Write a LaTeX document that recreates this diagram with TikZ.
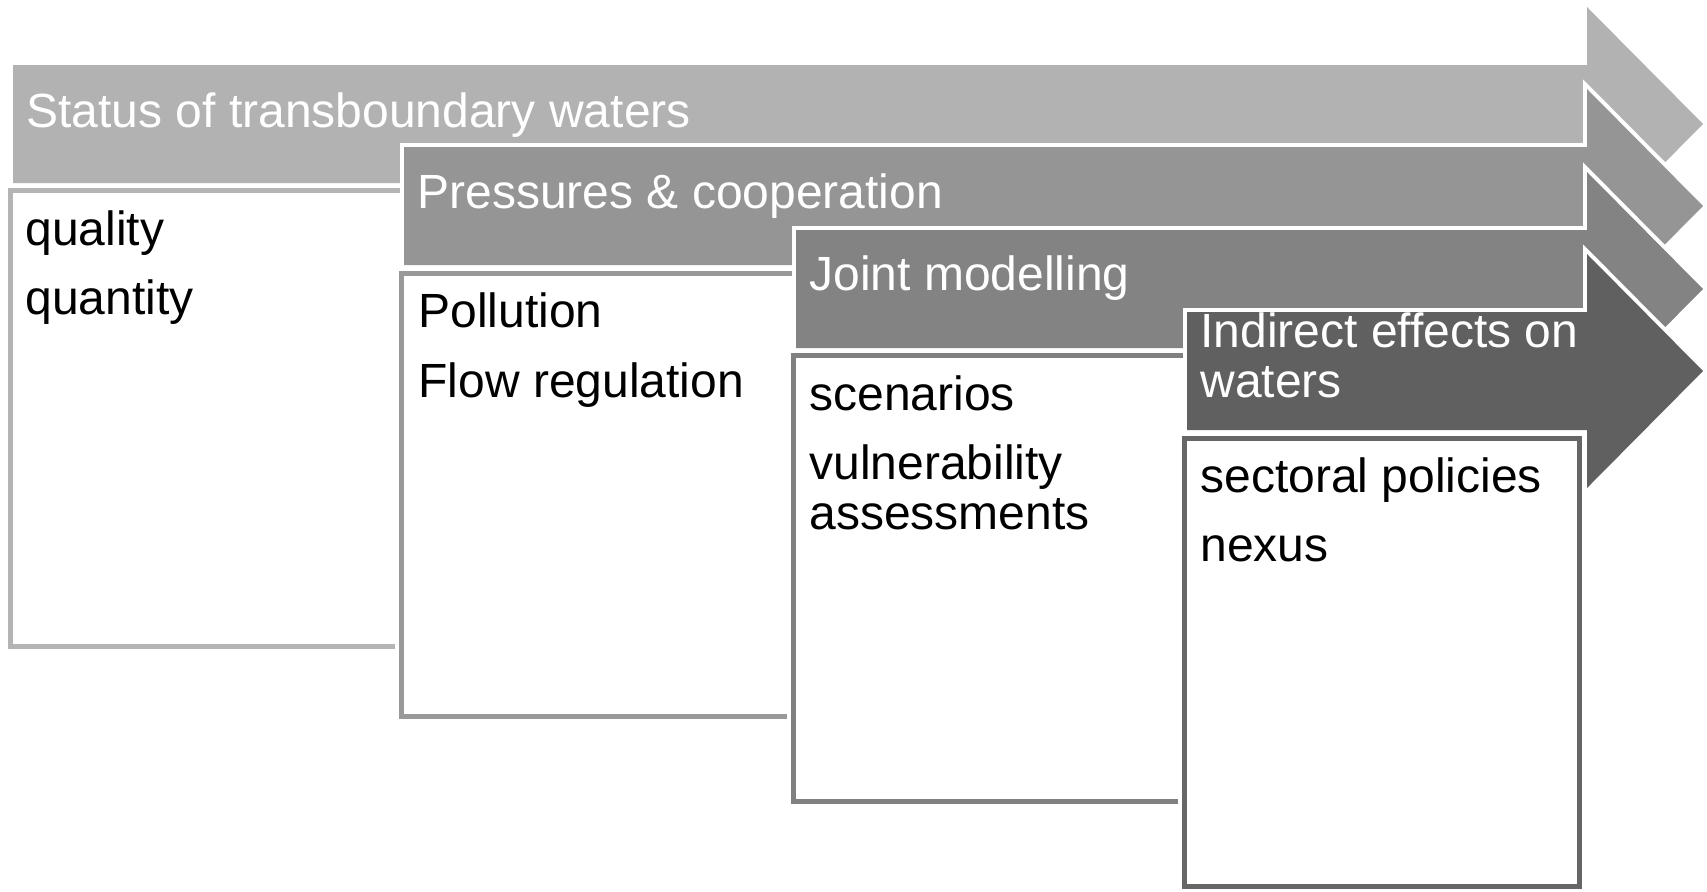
\documentclass[tikz,border=0pt]{standalone}
\usepackage{fontspec}
\setmainfont{Liberation Sans}
\definecolor{toneA}{HTML}{B2B2B2}
\definecolor{toneB}{HTML}{959595}
\definecolor{toneC}{HTML}{838383}
\definecolor{toneD}{HTML}{606060}
\definecolor{edgeA}{HTML}{B4B4B4}
\definecolor{edgeB}{HTML}{999999}
\definecolor{edgeC}{HTML}{808080}
\definecolor{edgeD}{HTML}{666666}
% #1 left edge of the shaft, #2 top of the shaft, #3 fill colour
\newcommand\phasearrow[3]{%
  \draw[white, line width=4pt, line join=miter]
    (#1,#2) -- (1587,#2) -- (1587,{#2-58}) -- (1703,{#2+59}) -- (1587,{#2+176})
    -- (1587,{#2+118}) -- (#1,{#2+118}) -- cycle;
  \fill[#3]
    (#1,#2) -- (1587,#2) -- (1587,{#2-58}) -- (1703,{#2+59}) -- (1587,{#2+176})
    -- (1587,{#2+118}) -- (#1,{#2+118}) -- cycle;
}
% #1 left, #2 top, #3 right, #4 bottom (outer edges), #5 border colour
\newcommand\phasebox[5]{%
  \draw[white, line width=6.5pt] ({#1+2.5},{#2+2.5}) rectangle ({#3-2.5},{#4-2.5});
  \filldraw[fill=white, draw=#5, line width=2.5pt] ({#1+2.5},{#2+2.5}) rectangle ({#3-2.5},{#4-2.5});
}
\begin{document}
\begin{tikzpicture}[x=0.5pt, y=-0.5pt,
  hdr/.style={anchor=base west, inner sep=0pt, text=white, font=\fontsize{24}{28}\selectfont},
  item/.style={anchor=base west, inner sep=0pt, text=black, font=\fontsize{24}{28}\selectfont}]
\useasboundingbox (0,0) rectangle (1707,891);

% stage 1
\phasearrow{13}{65}{toneA}
\node[hdr] (lab1) at (26,127) {Status of transboundary waters};
\phasebox{8}{188}{408}{649}{edgeA}
\node[item] (quality) at (25,245) {quality};
\node[item] (quantity) at (25,314) {quantity};

% stage 2
\phasearrow{404}{147}{toneB}
\node[hdr] (lab2) at (417,208) {Pressures \& cooperation};
\phasebox{399}{271}{799}{719}{edgeB}
\node[item] (pollution) at (418,327) {Pollution};
\node[item] (flow) at (418,397) {Flow regulation};

% stage 3
\phasearrow{796}{230}{toneC}
\node[hdr] (lab3) at (809,290) {Joint modelling};
\phasebox{791}{353}{1191}{804}{edgeC}
\node[item] (scen) at (809,410) {scenarios};
\node[item] (vuln) at (809,479) {vulnerability};
\node[item] (assess) at (809,529) {assessments};

% stage 4
\phasearrow{1187}{312}{toneD}
\node[hdr] (lab4a) at (1200,347) {Indirect effects on};
\node[hdr] (lab4b) at (1200,397) {waters};
\phasebox{1182}{436}{1582}{889}{edgeD}
\node[item] (sector) at (1200,492) {sectoral policies};
\node[item] (nexus) at (1200,561) {nexus};
\end{tikzpicture}
\end{document}
